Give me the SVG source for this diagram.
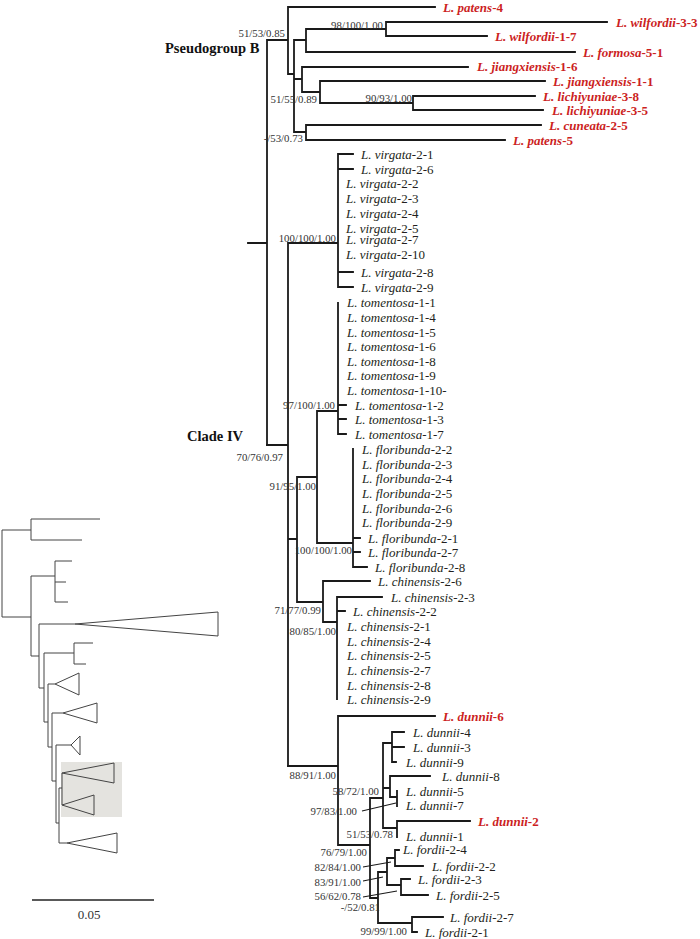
<svg xmlns="http://www.w3.org/2000/svg" width="700" height="939" viewBox="0 0 700 939">
<style>
.br{fill:none;stroke:#1a1a1a;stroke-width:1.8;stroke-linecap:square}
.ld{fill:none;stroke:#1a1a1a;stroke-width:1.1}
.sm{fill:none;stroke:#444;stroke-width:1}
.sp{font-family:"Liberation Serif",serif;font-size:13px;fill:#231f20}
.sp .i{font-style:italic}
.rd{font-family:"Liberation Serif",serif;font-size:13px;fill:#cc1f1f;font-weight:bold}
.rd .i{font-style:italic}
.bs{font-family:"Liberation Serif",serif;font-size:10.8px;fill:#333;text-anchor:end}
.hd{font-family:"Liberation Serif",serif;font-size:14.5px;font-weight:bold;fill:#111}
</style>
<rect width="700" height="939" fill="#fff"/>
<g id="inset">
<rect x="61" y="762" width="61" height="55" fill="#e4e3df"/>
<path class="sm" d="M2,530V617M2,530H31M31,519V540M31,519H100M31,540H82M2,617H31M31,576V656M31,576H55M55,561V602M55,561H72M55,582H66M55,602H68M31,656H39M39,624V688M39,624H75M75,624L218,612V636ZM39,688H44M44,653V722M44,653H74M74,643V664M74,643H93M74,664H86M44,722H48M48,684V747M48,684H55M55,684L79,673V695ZM48,747H52M52,713V781M52,713H63M63,713L97,703V723ZM52,781H56M56,745V823M56,745H71M71,745L80,736V755ZM56,823H59M59,788V843M59,788H62M62,773V805M62,773L114,763V783ZM62,805L94,795V815ZM59,843H67M67,843L117,833V853Z"/>
<path d="M32,900H154" stroke="#222" stroke-width="1.5"/>
<text x="89" y="919" font-family="Liberation Serif,serif" font-size="13" fill="#333" text-anchor="middle">0.05</text>
</g>
<g id="connectors">
<path class="br" d="M248,243H267M267,40V445M267,40H288M288,7V74M288,7H435M288,74H294M294,40V132M294,40H306M306,29V52M306,29H386M386,22V36M386,22H607M386,36H487M306,52H575M294,79H302M302,67V92M302,67H468M302,92H320M320,81V103M320,81H545M320,103H413M413,96V110M413,96H535M413,110H543M294,132H306M306,125V140M306,125H541M306,140H505"/>
<path class="br" d="M267,445H288M288,243V766M288,243H338M338,154V287M338,154H353M338,169H353M338,272H353M338,287H353M288,539H297M297,477V602M297,477H317M317,411V543M317,411H338M338,303V434M338,405H346M338,419H346M338,434H346M317,543H353M353,449V567M353,538H360M353,552H360M353,567H367M297,602H323M323,581V622M323,581H370M323,622H337M337,597V699M337,597H382M337,611H345"/>
<path class="br" d="M288,766H338M338,716V845M338,716H435M338,845H370M370,798V898M370,798H383M383,743V828M383,743H392M392,732V762M392,732H404M392,747H404M392,762H396M383,788H390M390,776V797M390,776H430M390,797H397M397,791V806M383,828H397M397,821V837M397,821H470M370,898H378M378,872V923M378,872H387M387,858V885M387,858H395M395,850V866M395,850H399M395,866H423M387,885H401M401,879V895M401,879H410M401,895H428M378,923H412M412,917V932M412,917H443M412,932H417"/>
<path class="ld" d="M362,811L396,803M363,867L391,862M363,881L383,877M363,897L397,891"/>
</g>
<g id="support">
<text class="bs" x="285" y="36.8">51/53/0.85</text>
<text class="bs" x="383" y="28.8">98/100/1.00</text>
<text class="bs" x="317" y="102.8">51/55/0.89</text>
<text class="bs" x="412" y="101.8">90/93/1.00</text>
<text class="bs" x="303" y="141.8">-/53/0.73</text>
<text class="bs" x="336" y="241.8">100/100/1.00</text>
<text class="bs" x="335" y="408.8">97/100/1.00</text>
<text class="bs" x="283" y="460.8">70/76/0.97</text>
<text class="bs" x="316" y="489.8">91/95/1.00</text>
<text class="bs" x="352" y="553.8">100/100/1.00</text>
<text class="bs" x="321" y="613.8">71/77/0.99</text>
<text class="bs" x="336" y="634.8">80/85/1.00</text>
<text class="bs" x="336" y="778.8">88/91/1.00</text>
<text class="bs" x="379" y="794.8">58/72/1.00</text>
<text class="bs" x="357" y="814.8">97/83/1.00</text>
<text class="bs" x="393" y="837.8">51/53/0.78</text>
<text class="bs" x="367" y="855.8">76/79/1.00</text>
<text class="bs" x="361" y="870.8">82/84/1.00</text>
<text class="bs" x="361" y="885.8">83/91/1.00</text>
<text class="bs" x="361" y="899.8">56/62/0.78</text>
<text class="bs" x="380" y="910.8">-/52/0.81</text>
<text class="bs" x="407" y="934.8">99/99/1.00</text>
</g>
<g id="clade-labels">
<text class="hd" x="165" y="53">Pseudogroup B</text>
<text class="hd" x="243" y="441" text-anchor="end">Clade IV</text>
</g>
<g id="pseudogroup-b">
<text id="patens-4" class="rd" x="443" y="11.5"><tspan class="i">L. patens</tspan>-4</text>
<text id="wilfordii-3-3" class="rd" x="616" y="26.5"><tspan class="i">L. wilfordii</tspan>-3-3</text>
<text id="wilfordii-1-7" class="rd" x="495" y="40.5"><tspan class="i">L. wilfordii</tspan>-1-7</text>
<text id="formosa-5-1" class="rd" x="583" y="56.5"><tspan class="i">L. formosa</tspan>-5-1</text>
<text id="jiangxiensis-1-6" class="rd" x="477" y="70.5"><tspan class="i">L. jiangxiensis</tspan>-1-6</text>
<text id="jiangxiensis-1-1" class="rd" x="553" y="85.5"><tspan class="i">L. jiangxiensis</tspan>-1-1</text>
<text id="lichiyuniae-3-8" class="rd" x="543" y="100.5"><tspan class="i">L. lichiyuniae</tspan>-3-8</text>
<text id="lichiyuniae-3-5" class="rd" x="552" y="114.5"><tspan class="i">L. lichiyuniae</tspan>-3-5</text>
<text id="cuneata-2-5" class="rd" x="549" y="129.5"><tspan class="i">L. cuneata</tspan>-2-5</text>
<text id="patens-5" class="rd" x="513" y="144.5"><tspan class="i">L. patens</tspan>-5</text>
</g>
<g id="virgata">
<text id="virgata-2-1" class="sp" x="361" y="158.5"><tspan class="i">L. virgata</tspan>-2-1</text>
<text id="virgata-2-6" class="sp" x="361" y="173.5"><tspan class="i">L. virgata</tspan>-2-6</text>
<text id="virgata-2-2" class="sp" x="346" y="187.5"><tspan class="i">L. virgata</tspan>-2-2</text>
<text id="virgata-2-3" class="sp" x="346" y="202.5"><tspan class="i">L. virgata</tspan>-2-3</text>
<text id="virgata-2-4" class="sp" x="346" y="217.5"><tspan class="i">L. virgata</tspan>-2-4</text>
<text id="virgata-2-5" class="sp" x="346" y="232.5"><tspan class="i">L. virgata</tspan>-2-5</text>
<text id="virgata-2-7" class="sp" x="346" y="243.5"><tspan class="i">L. virgata</tspan>-2-7</text>
<text id="virgata-2-10" class="sp" x="346" y="258.5"><tspan class="i">L. virgata</tspan>-2-10</text>
<text id="virgata-2-8" class="sp" x="361" y="276.5"><tspan class="i">L. virgata</tspan>-2-8</text>
<text id="virgata-2-9" class="sp" x="361" y="291.5"><tspan class="i">L. virgata</tspan>-2-9</text>
</g>
<g id="tomentosa">
<text id="tomentosa-1-1" class="sp" x="347" y="306.5"><tspan class="i">L. tomentosa</tspan>-1-1</text>
<text id="tomentosa-1-4" class="sp" x="347" y="321.5"><tspan class="i">L. tomentosa</tspan>-1-4</text>
<text id="tomentosa-1-5" class="sp" x="347" y="336.5"><tspan class="i">L. tomentosa</tspan>-1-5</text>
<text id="tomentosa-1-6" class="sp" x="347" y="350.5"><tspan class="i">L. tomentosa</tspan>-1-6</text>
<text id="tomentosa-1-8" class="sp" x="347" y="365.5"><tspan class="i">L. tomentosa</tspan>-1-8</text>
<text id="tomentosa-1-9" class="sp" x="347" y="379.5"><tspan class="i">L. tomentosa</tspan>-1-9</text>
<text id="tomentosa-1-10" class="sp" x="347" y="394.5"><tspan class="i">L. tomentosa</tspan>-1-10-</text>
<text id="tomentosa-1-2" class="sp" x="355" y="409.5"><tspan class="i">L. tomentosa</tspan>-1-2</text>
<text id="tomentosa-1-3" class="sp" x="355" y="423.5"><tspan class="i">L. tomentosa</tspan>-1-3</text>
<text id="tomentosa-1-7" class="sp" x="355" y="438.5"><tspan class="i">L. tomentosa</tspan>-1-7</text>
</g>
<g id="floribunda">
<text id="floribunda-2-2" class="sp" x="362" y="453.5"><tspan class="i">L. floribunda</tspan>-2-2</text>
<text id="floribunda-2-3" class="sp" x="362" y="468.5"><tspan class="i">L. floribunda</tspan>-2-3</text>
<text id="floribunda-2-4" class="sp" x="362" y="482.5"><tspan class="i">L. floribunda</tspan>-2-4</text>
<text id="floribunda-2-5" class="sp" x="362" y="497.5"><tspan class="i">L. floribunda</tspan>-2-5</text>
<text id="floribunda-2-6" class="sp" x="362" y="512.5"><tspan class="i">L. floribunda</tspan>-2-6</text>
<text id="floribunda-2-9" class="sp" x="362" y="526.5"><tspan class="i">L. floribunda</tspan>-2-9</text>
<text id="floribunda-2-1" class="sp" x="368" y="542.5"><tspan class="i">L. floribunda</tspan>-2-1</text>
<text id="floribunda-2-7" class="sp" x="368" y="556.5"><tspan class="i">L. floribunda</tspan>-2-7</text>
<text id="floribunda-2-8" class="sp" x="375" y="571.5"><tspan class="i">L. floribunda</tspan>-2-8</text>
</g>
<g id="chinensis">
<text id="chinensis-2-6" class="sp" x="378" y="585.5"><tspan class="i">L. chinensis</tspan>-2-6</text>
<text id="chinensis-2-3" class="sp" x="391" y="601.5"><tspan class="i">L. chinensis</tspan>-2-3</text>
<text id="chinensis-2-2" class="sp" x="353" y="615.5"><tspan class="i">L. chinensis</tspan>-2-2</text>
<text id="chinensis-2-1" class="sp" x="347" y="630.5"><tspan class="i">L. chinensis</tspan>-2-1</text>
<text id="chinensis-2-4" class="sp" x="347" y="645.5"><tspan class="i">L. chinensis</tspan>-2-4</text>
<text id="chinensis-2-5" class="sp" x="347" y="659.5"><tspan class="i">L. chinensis</tspan>-2-5</text>
<text id="chinensis-2-7" class="sp" x="347" y="674.5"><tspan class="i">L. chinensis</tspan>-2-7</text>
<text id="chinensis-2-8" class="sp" x="347" y="689.5"><tspan class="i">L. chinensis</tspan>-2-8</text>
<text id="chinensis-2-9" class="sp" x="347" y="703.5"><tspan class="i">L. chinensis</tspan>-2-9</text>
</g>
<g id="dunnii">
<text id="dunnii-6" class="rd" x="443" y="720.5"><tspan class="i">L. dunnii</tspan>-6</text>
<text id="dunnii-4" class="sp" x="413" y="736.5"><tspan class="i">L. dunnii</tspan>-4</text>
<text id="dunnii-3" class="sp" x="413" y="751.5"><tspan class="i">L. dunnii</tspan>-3</text>
<text id="dunnii-9" class="sp" x="406" y="766.5"><tspan class="i">L. dunnii</tspan>-9</text>
<text id="dunnii-8" class="sp" x="442" y="780.5"><tspan class="i">L. dunnii</tspan>-8</text>
<text id="dunnii-5" class="sp" x="406" y="795.5"><tspan class="i">L. dunnii</tspan>-5</text>
<text id="dunnii-7" class="sp" x="406" y="809.5"><tspan class="i">L. dunnii</tspan>-7</text>
<text id="dunnii-2" class="rd" x="478" y="825.5"><tspan class="i">L. dunnii</tspan>-2</text>
<text id="dunnii-1" class="sp" x="406" y="840.5"><tspan class="i">L. dunnii</tspan>-1</text>
</g>
<g id="fordii">
<text id="fordii-2-4" class="sp" x="403" y="853.5"><tspan class="i">L. fordii</tspan>-2-4</text>
<text id="fordii-2-2" class="sp" x="432" y="870.5"><tspan class="i">L. fordii</tspan>-2-2</text>
<text id="fordii-2-3" class="sp" x="418" y="883.5"><tspan class="i">L. fordii</tspan>-2-3</text>
<text id="fordii-2-5" class="sp" x="436" y="899.5"><tspan class="i">L. fordii</tspan>-2-5</text>
<text id="fordii-2-7" class="sp" x="450" y="921.5"><tspan class="i">L. fordii</tspan>-2-7</text>
<text id="fordii-2-1" class="sp" x="425" y="936.5"><tspan class="i">L. fordii</tspan>-2-1</text>
</g>
</svg>
